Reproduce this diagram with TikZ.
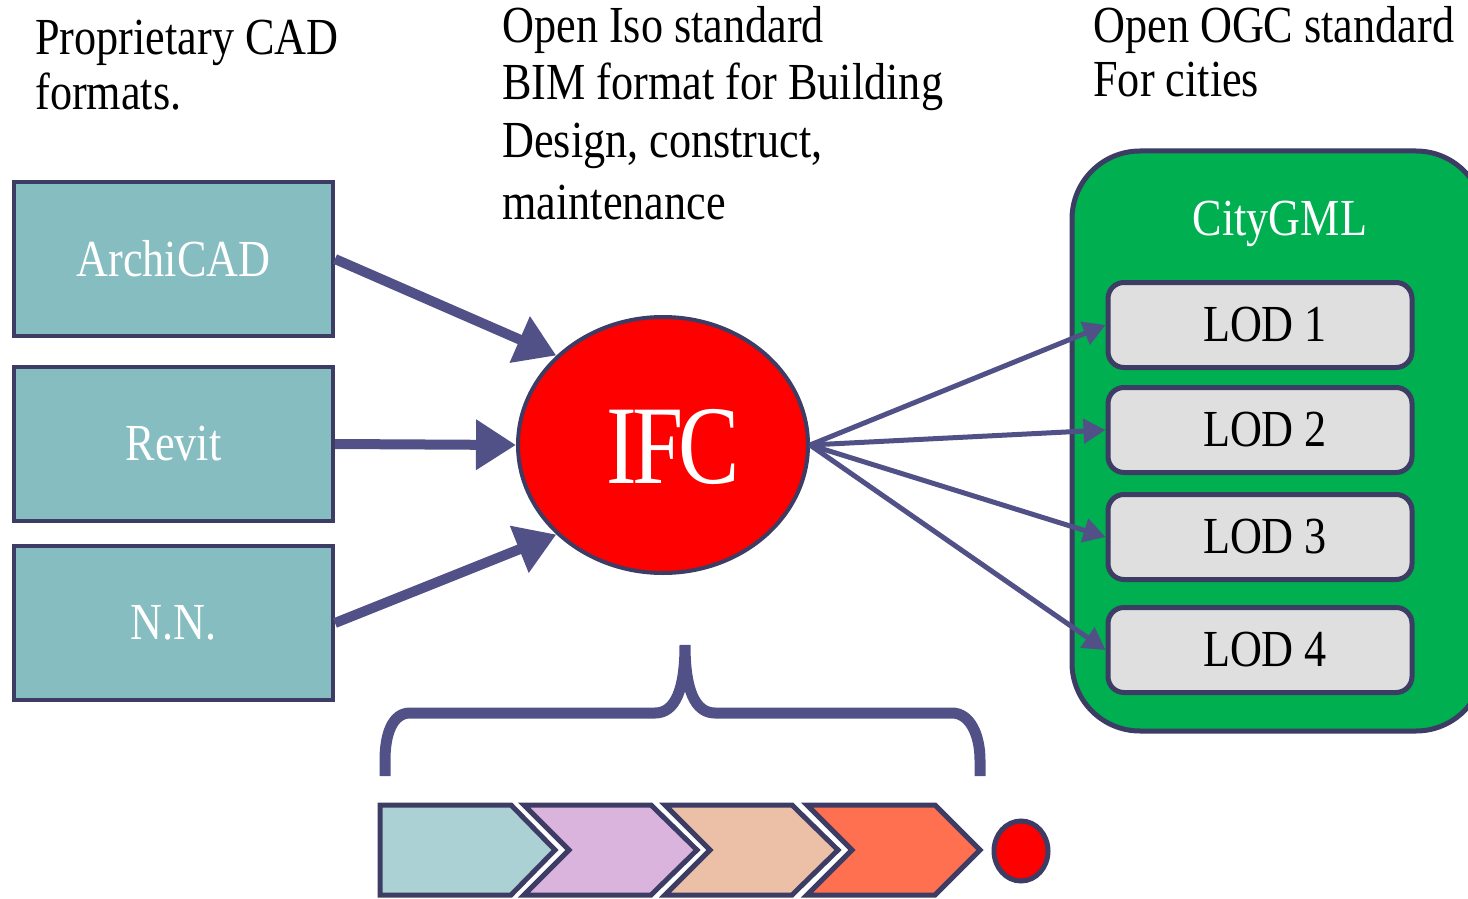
\documentclass[tikz,border=0pt]{standalone}
\usepackage{fontspec}
\setmainfont{Liberation Serif}[FakeStretch=0.85]
\usetikzlibrary{shapes.geometric,arrows.meta}
\definecolor{bord}{HTML}{3C3C64}
\definecolor{arr}{HTML}{515188}
\definecolor{teal}{HTML}{85BDC1}
\definecolor{cgreen}{HTML}{00AF50}
\definecolor{lodgray}{HTML}{DFDFDF}
\definecolor{chA}{HTML}{ABD1D5}
\definecolor{chB}{HTML}{DAB4DC}
\definecolor{chC}{HTML}{ECC0A6}
\definecolor{chD}{HTML}{FF7050}
\definecolor{ifcred}{HTML}{FF0000}
\tikzset{
  txt/.style={anchor=base west, inner sep=0pt, font=\fontsize{26}{29}\selectfont},
  srcbox/.style={draw=bord, line width=2pt, fill=teal, minimum width=159.5pt, minimum height=77pt, inner sep=0pt, text=white, font=\fontsize{26}{29}\selectfont},
  lodbox/.style={draw=bord, line width=2.5pt, fill=lodgray, rounded corners=8pt, minimum width=152pt, minimum height=42.5pt, inner sep=0pt, font=\fontsize{26}{29}\selectfont},
  bigarrow/.style={draw=arr, line width=5pt, -{Triangle[length=20pt,width=24pt]}},
  thinarrow/.style={draw=arr, line width=2.5pt, -{Triangle[length=11pt,width=12pt]}},
  chev/.style={draw=bord, line width=2.5pt},
}
\begin{document}
\begin{tikzpicture}[x=0.5pt,y=-0.5pt]
\useasboundingbox (0,0) rectangle (1468,899);
% texts
\node[txt] (t1a) at (35,55) {Proprietary CAD};
\node[txt] (t1b) at (35,110) {formats.};
\node[txt] (t2a) at (502,43) {Open Iso standard};
\node[txt] (t2b) at (502,100) {BIM format for Building};
\node[txt] (t2c) at (502,157) {Design, construct,};
\node[txt] (t2d) at (502,220) {maintenance};
\node[txt] (t3a) at (1093,43) {Open OGC standard};
\node[txt] (t3b) at (1093,97) {For cities};
% source boxes
\node[srcbox] (archi) at (173.5,259) {ArchiCAD};
\node[srcbox] (revit) at (173.5,444) {Revit};
\node[srcbox] (nn) at (173.5,623) {N.N.};
% IFC
\node[ellipse, draw=bord, line width=2pt, fill=ifcred, minimum width=145pt, minimum height=128pt, inner sep=0pt] (ifc) at (663,445) {};
\node[text=white, inner sep=0pt, font=\fontsize{56}{60}\selectfont\addfontfeature{FakeStretch=0.82,LetterSpace=-4}] (ifct) at (673,447) {IFC};
% CityGML container
\draw[draw=bord, line width=2.5pt, fill=cgreen, rounded corners=34pt] (1072,151) rectangle (1484,731);
\node[text=white, inner sep=0pt, font=\fontsize{26}{29}\selectfont] (city) at (1280,224) {CityGML};
\node[lodbox] (lod1) at (1260,325) {\hspace*{5pt}LOD 1};
\node[lodbox] (lod2) at (1260,430) {\hspace*{5pt}LOD 2};
\node[lodbox] (lod3) at (1260,537) {\hspace*{5pt}LOD 3};
\node[lodbox] (lod4) at (1260,650) {\hspace*{5pt}LOD 4};
% arrows
\draw[bigarrow] (archi.east) -- (ifc.140);
\draw[bigarrow] (revit.east) -- (ifc.west);
\draw[bigarrow] (nn.east) -- (ifc.220);
\draw[thinarrow] (ifc.east) -- (lod1.west);
\draw[thinarrow] (ifc.east) -- (lod2.west);
\draw[thinarrow] (ifc.east) -- (lod3.west);
\draw[thinarrow] (ifc.east) -- (lod4.west);
% brace
\draw[arr, line width=5.5pt] (385,776) -- (385,760) .. controls (385,735) and (392,713) .. (410,713)
  -- (655,713) .. controls (675,713) and (685,690) .. (685,645)
  .. controls (685,690) and (695,713) .. (715,713)
  -- (952,713) .. controls (970,713) and (980,735) .. (980,760) -- (980,776);
% chevrons
\draw[chev, fill=chA] (380,805) -- (511,805) -- (555,850) -- (511,895) -- (380,895) -- cycle;
\draw[chev, fill=chB] (524,805) -- (651,805) -- (697,850) -- (651,895) -- (524,895) -- (569,850) -- cycle;
\draw[chev, fill=chC] (665,805) -- (792,805) -- (838,850) -- (792,895) -- (665,895) -- (710,850) -- cycle;
\draw[chev, fill=chD] (807,805) -- (935,805) -- (980,850) -- (935,895) -- (807,895) -- (852,850) -- cycle;
\node[ellipse, draw=bord, line width=2.5pt, fill=ifcred, minimum width=27pt, minimum height=30pt, inner sep=0pt] (dot) at (1021,851) {};
\end{tikzpicture}
\end{document}
